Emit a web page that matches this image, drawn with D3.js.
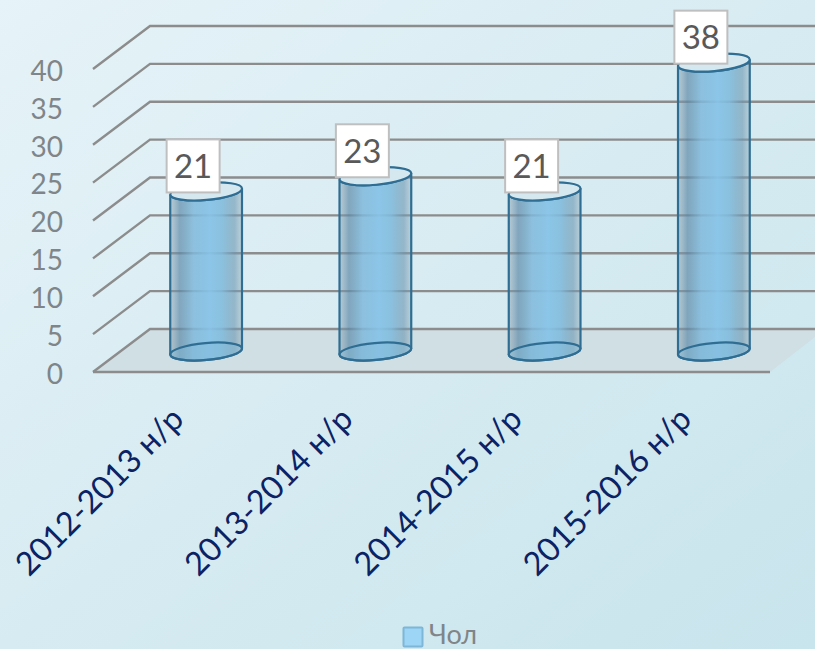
<!DOCTYPE html>
<html><head><meta charset="utf-8">
<script src="https://cdn.jsdelivr.net/npm/d3@7/dist/d3.min.js"></script>
<style>html,body{margin:0;padding:0;overflow:hidden}svg{display:block;font-family:Lato,"Open Sans",sans-serif}</style>
</head><body><div id="c"></div>
<script>
const categories=["2012-2013 н/р","2013-2014 н/р","2014-2015 н/р","2015-2016 н/р"];
const values=[21,23,21,38];
const ticks=[0,5,10,15,20,25,30,35,40];
const seriesName="Чол";
const W=815,H=649;
const depthX=57,depthY=-43;
const x=d3.scaleBand().domain(categories).range([93,770]);
const y=d3.scaleLinear().domain([0,40]).range([372,69]);
const svg=d3.select("#c").append("svg").attr("width",W).attr("height",H);
const defs=svg.append("defs");
const bg=defs.append("linearGradient").attr("id","bg").attr("x1",0).attr("y1",0).attr("x2",1).attr("y2",1);
bg.append("stop").attr("offset",0).attr("stop-color","#e6f3f8");
bg.append("stop").attr("offset",1).attr("stop-color","#c8e4ec");
const cg=defs.append("linearGradient").attr("id","cyl");
[[0,"#8aa2b0",.45],[.13,"#5f8ba8",.72],[.32,"#7fb8da",.85],[.55,"#87c3e7",.95],[.72,"#80bbdc",.88],[.9,"#6f9ab3",.65],[1,"#8aa6b6",.4]]
 .forEach(s=>cg.append("stop").attr("offset",s[0]).attr("stop-color",s[1]).attr("stop-opacity",s[2]));
svg.append("rect").attr("width",W).attr("height",H).attr("fill","url(#bg)");
// floor
svg.append("path").attr("fill","#cfdfe3")
 .attr("d",`M${x.range()[0]},${y(0)}L${x.range()[0]+depthX},${y(0)+depthY}L${W},${y(0)+depthY}L${W},${y(0)+depthY+8}L${x.range()[1]},${y(0)}Z`);
// grid
const g=svg.append("g").attr("fill","none").attr("stroke","#8c8c8c").attr("stroke-width",2.4);
g.selectAll("path").data(ticks).join("path")
 .attr("d",t=>`M${x.range()[0]},${y(t)}L${x.range()[0]+depthX},${y(t)+depthY}L${W},${y(t)+depthY}`);
g.append("line").attr("x1",x.range()[0]).attr("x2",x.range()[1]).attr("y1",y(0)).attr("y2",y(0));
// tick labels
svg.append("g").selectAll("text").data(ticks).join("text")
 .attr("x",63).attr("y",t=>y(t)+2).attr("dy","0.35em").attr("text-anchor","end")
 .attr("font-size",28).attr("fill","#7f8589").text(t=>t);
// cylinders
const rx=36,ry=8.5,tilt=-5;
const rad=tilt*Math.PI/180,ex=rx*Math.cos(rad),ey=rx*Math.sin(rad);
const cyl=svg.append("g").selectAll("g").data(categories).join("g")
 .attr("transform",c=>`translate(${x(c)+x.bandwidth()/2+depthX/2},${depthY/2})`);
const s="#2f6d92";
cyl.append("path").attr("fill","url(#cyl)").attr("stroke",s).attr("stroke-width",2.2)
 .attr("d",(c,i)=>{const a=y(0)+1,b=y(values[i]);
   return `M${-ex},${b-ey}L${-ex},${a-ey}A${rx},${ry} ${tilt} 0 0 ${ex},${a+ey}L${ex},${b+ey}A${rx},${ry} ${tilt} 0 1 ${-ex},${b-ey}Z`;});
cyl.append("ellipse").attr("cx",0).attr("cy",(c,i)=>y(values[i])).attr("rx",rx).attr("ry",ry)
 .attr("transform",(c,i)=>`rotate(${tilt} 0 ${y(values[i])})`).attr("fill","#d5e8ef").attr("stroke",s).attr("stroke-width",2.2);
cyl.append("ellipse").attr("cx",0).attr("cy",y(0)+1).attr("rx",rx).attr("ry",ry)
 .attr("transform",`rotate(${tilt} 0 ${y(0)+1})`).attr("fill","#7fb9da").attr("fill-opacity",.4).attr("stroke",s).attr("stroke-width",2.2);
// value labels
const lw=53,lh=53,lx=-39.5;
cyl.append("rect").attr("x",lx).attr("y",(c,i)=>y(values[i])-53+1).attr("width",lw).attr("height",lh)
 .attr("fill","#fff").attr("stroke","#bfbfbf").attr("stroke-width",2);
cyl.append("text").attr("x",lx+lw/2).attr("y",(c,i)=>y(values[i])-53+1+lh/2).attr("dy","0.36em")
 .attr("text-anchor","middle").attr("font-size",33).attr("fill","#595959").text((c,i)=>values[i]);
// category labels
svg.append("g").selectAll("text").data(categories).join("text")
 .attr("transform",c=>`translate(${x(c)+x.bandwidth()/2+8},421) rotate(-45)`)
 .attr("text-anchor","end").attr("font-size",32.5).attr("fill","#0b2265").text(c=>c);
// legend
svg.append("rect").attr("x",403.5).attr("y",627.5).attr("width",19).attr("height",19).attr("rx",1)
 .attr("fill","#9dd5f7").attr("stroke","#7db6d6").attr("stroke-width",2);
svg.append("text").attr("x",429).attr("y",644).attr("font-size",27).attr("fill","#7f8589").text(seriesName);
</script></body></html>
